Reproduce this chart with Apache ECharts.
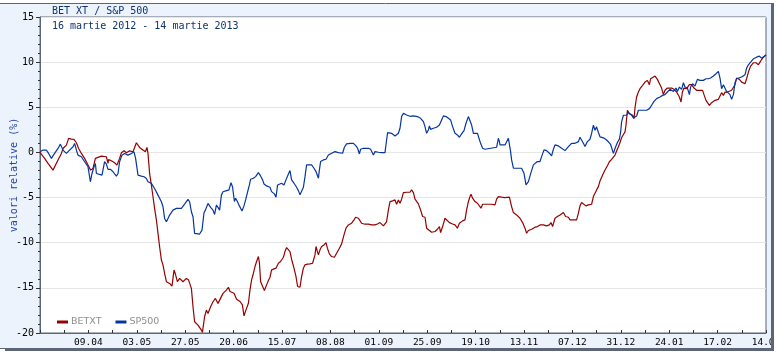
<!DOCTYPE html>
<html>
<head>
<meta charset="utf-8">
<script src="https://cdn.jsdelivr.net/npm/echarts/dist/echarts.min.js"></script>
<style>
html,body{margin:0;padding:0;background:#fff;}
#chart{width:778px;height:355px;}
</style>
</head>
<body>
<div id="chart"></div>
<script>
// x = days since 16.03.2012, y = relative change (%)
const startDate = [2012, 2, 16];
const axisMaxDay = 363;
const labelStepDays = 24.2;

const betDays = [0,2.3,4.0,4.8,6.5,7.3,9.0,10.7,11.5,13.2,14.3,15.7,17.0,18.2,19.3,20.7,22.3,24.0,25.3,26.5,27.7,28.7,30.7,33.2,34.0,34.3,35.7,37.3,38.5,39.8,40.7,42.0,43.2,44.8,46.5,48.2,49.8,51.5,52.7,53.5,54.0,54.8,55.7,56.5,57.3,58.2,59.0,59.8,60.7,61.5,62.3,63.2,64.8,66.0,67.0,67.7,68.7,69.8,70.7,71.5,73.2,74.3,75.7,76.5,77.3,79.0,80.7,81.2,82.3,83.2,84.0,85.3,86.5,87.7,89.0,89.8,91.5,93.2,94.2,95.0,95.8,97.0,98.3,100.0,101.2,102.0,103.0,104.2,105.0,105.8,106.7,107.5,108.3,109.2,109.7,110.3,111.3,112.2,113.3,114.2,115.0,115.8,116.7,118.0,119.2,120.3,121.7,122.5,123.3,124.2,125.0,125.8,127.0,128.0,128.8,130.0,130.8,131.7,132.5,133.7,135.0,136.3,137.5,138.0,138.7,139.2,140.0,140.8,142.0,143.0,143.7,144.7,145.8,147.2,148.3,149.7,150.8,152.0,153.0,154.2,155.8,157.0,157.8,159.2,160.0,160.8,162.5,164.2,165.8,166.7,167.5,168.7,170.0,170.8,171.7,172.5,173.3,174.2,175.0,176.3,177.5,178.3,179.2,180.0,180.8,181.7,183.3,185.0,185.8,186.7,187.5,188.3,189.2,190.3,191.3,192.5,193.3,194.2,195.8,197.5,198.7,199.7,200.3,201.3,202.5,203.3,204.7,206.3,207.5,208.7,209.7,211.3,212.5,213.3,214.2,215.0,215.5,216.3,217.5,218.7,219.7,220.5,221.3,222.5,224.2,225.8,227.5,228.3,229.2,230.8,232.5,234.7,235.8,236.7,238.3,240.0,241.3,242.5,243.3,244.2,245.8,247.5,248.7,250.0,251.7,253.3,254.7,255.5,256.3,257.5,258.7,260.0,261.7,262.8,264.2,265.0,266.7,268.3,269.2,270.0,270.8,271.7,273.0,274.2,275.0,275.8,276.7,277.5,278.3,279.2,280.0,281.3,282.5,283.7,284.7,285.8,286.7,287.5,288.3,289.2,290.0,290.8,291.7,292.5,293.0,293.7,294.7,295.3,296.3,297.0,297.5,298.3,299.2,300.0,301.3,302.5,303.7,304.7,305.3,306.3,307.5,308.7,310.0,310.8,311.7,312.5,313.7,314.7,315.8,317.0,318.3,319.7,320.5,321.2,322.0,323.3,324.7,325.8,327.0,328.3,330.0,331.3,332.0,333.0,334.7,335.8,337.5,339.2,340.0,340.8,341.7,342.5,343.7,344.7,345.8,346.7,347.5,348.3,349.7,350.8,352.5,353.3,354.2,355.3,356.7,358.0,359.2,360.0,360.8,361.7,363.0];
const betValues = [0.00,-0.66,-1.22,-1.03,-1.96,-1.77,-0.85,-0.11,0.44,0.81,1.55,1.48,1.44,1.07,0.44,-0.11,-0.66,-1.40,-1.96,-1.77,-0.66,-0.48,-0.41,-0.48,-1.22,-0.78,-0.92,-1.14,-1.40,-0.66,-0.04,0.18,-0.04,0.18,0.07,1.07,0.55,0.26,0.07,0.55,-0.11,-2.33,-3.62,-4.91,-6.20,-7.49,-8.97,-10.45,-11.92,-12.48,-13.40,-14.32,-14.51,-14.80,-13.03,-13.47,-14.32,-13.95,-14.14,-14.32,-13.95,-14.14,-15.06,-17.09,-18.75,-19.12,-19.68,-19.93,-18.20,-17.46,-17.83,-17.09,-16.54,-16.17,-16.72,-16.54,-15.61,-15.25,-14.93,-15.41,-15.22,-15.59,-16.25,-16.51,-16.88,-18.10,-17.44,-16.70,-15.22,-14.11,-13.38,-12.64,-12.08,-11.53,-12.20,-14.30,-14.85,-15.30,-14.67,-14.19,-13.82,-13.01,-13.19,-12.82,-12.27,-12.08,-11.61,-10.98,-10.54,-10.42,-10.98,-11.83,-12.82,-13.75,-14.85,-14.93,-13.75,-12.82,-12.45,-12.38,-12.34,-12.27,-11.35,-10.42,-10.98,-11.35,-10.79,-10.42,-10.24,-9.98,-10.61,-11.24,-11.53,-11.61,-11.16,-10.61,-10.13,-9.13,-8.39,-8.03,-7.84,-7.47,-7.18,-7.29,-7.55,-7.84,-7.95,-7.95,-8.03,-8.21,-8.03,-7.92,-7.77,-7.77,-8.14,-8.14,-7.66,-6.37,-5.44,-5.37,-5.26,-5.74,-5.26,-5.63,-5.18,-4.45,-4.41,-4.41,-4.15,-4.45,-5.18,-5.18,-5.70,-6.37,-7.10,-7.18,-8.39,-8.58,-8.84,-8.76,-8.51,-8.21,-8.87,-8.21,-7.29,-7.47,-7.77,-7.92,-8.03,-8.39,-7.84,-7.58,-7.47,-6.37,-5.44,-4.89,-4.63,-5.07,-5.44,-5.63,-5.81,-6.18,-5.74,-5.74,-5.74,-5.74,-5.81,-5.18,-4.89,-4.96,-5.00,-4.96,-6.00,-6.66,-6.92,-7.29,-7.77,-8.39,-8.95,-8.65,-8.51,-8.28,-8.21,-8.03,-8.03,-8.14,-8.03,-7.77,-8.21,-7.29,-7.10,-6.92,-6.66,-7.10,-7.18,-7.47,-7.47,-7.47,-6.73,-5.92,-5.55,-5.70,-5.92,-5.81,-5.81,-5.74,-4.89,-4.52,-4.15,-3.79,-3.16,-2.50,-1.95,-1.47,-1.03,-0.77,-0.66,-0.29,0.15,0.63,1.10,1.62,1.99,2.28,3.01,4.67,4.30,4.12,4.12,3.75,4.93,6.14,6.69,7.06,7.43,7.79,7.98,7.50,8.16,8.24,8.46,8.09,7.50,7.13,6.40,6.88,7.13,7.35,7.13,6.99,6.69,6.14,5.59,6.69,7.13,7.06,7.50,7.50,7.13,6.88,6.88,6.88,6.40,5.77,5.22,5.51,5.77,5.88,6.03,6.62,6.32,6.69,6.69,6.88,6.88,6.76,7.50,8.24,8.09,7.79,7.61,8.16,8.90,9.56,9.93,9.93,9.71,10.00,10.29,10.55,10.80];

const spDays = [0,1.5,3.2,4.3,5.7,7.3,9.0,10.2,11.5,12.3,13.2,14.8,16.5,17.3,18.2,19.0,20.7,22.3,24.0,25.2,26.0,27.0,27.7,28.2,29.0,31.0,32.3,33.2,34.0,35.3,36.5,38.2,39.0,39.8,41.0,42.3,44.0,45.7,47.0,47.8,49.0,50.7,52.0,53.2,54.0,55.7,57.3,59.0,60.7,61.5,62.3,63.2,64.0,64.8,66.5,68.2,69.0,70.7,72.3,74.0,74.8,75.7,76.5,77.3,78.2,79.8,81.0,82.0,82.7,84.0,85.3,86.5,87.3,88.2,89.0,89.8,90.7,91.5,93.3,94.5,95.5,96.3,97.2,97.8,98.7,99.7,101.0,102.0,102.8,103.7,104.7,105.3,106.7,107.8,109.2,110.3,111.3,112.0,113.3,115.0,115.8,117.2,118.0,118.8,119.7,120.8,122.0,123.0,124.2,125.0,125.8,127.0,128.3,129.2,130.0,130.8,131.7,132.5,133.3,134.2,135.8,137.0,138.0,139.2,139.7,140.3,141.7,143.0,144.2,145.8,147.5,149.2,151.3,152.2,153.3,155.0,156.7,158.0,158.8,159.7,160.3,161.7,164.2,165.3,166.0,166.7,167.5,169.2,170.8,172.5,173.3,173.8,174.7,175.8,177.5,179.2,180.0,180.8,181.7,183.3,185.0,186.7,188.7,190.3,191.7,192.5,193.3,194.2,194.7,195.3,196.7,198.3,199.7,200.8,201.7,203.0,204.2,205.3,206.3,207.5,208.7,209.7,210.8,212.0,213.0,214.2,215.0,215.8,216.7,218.7,219.7,220.3,221.3,222.5,223.3,228.3,229.2,229.7,230.0,230.8,232.5,233.3,234.2,234.7,235.3,235.8,236.7,237.5,240.8,242.0,243.0,244.2,245.3,246.7,247.5,248.7,250.0,250.8,252.0,253.3,254.7,255.8,256.7,257.5,259.2,260.8,262.5,264.2,265.8,267.5,269.2,270.0,270.8,271.7,272.5,273.7,275.0,275.8,276.7,277.5,278.3,279.2,280.0,281.7,283.0,284.2,285.3,286.7,287.5,288.7,289.7,290.3,290.8,291.7,292.5,293.3,294.2,295.0,295.8,296.7,297.5,298.3,299.2,300.0,301.7,303.3,304.7,305.8,307.0,308.3,310.0,311.3,312.5,313.7,315.0,316.7,318.0,318.7,319.7,320.8,321.7,322.5,323.7,324.7,325.3,326.3,327.5,328.7,330.0,331.7,333.0,334.2,335.3,336.7,338.0,339.2,340.0,340.8,341.7,342.5,343.3,344.2,345.0,345.8,346.7,347.5,348.3,349.2,350.8,352.5,353.3,354.2,355.3,356.7,358.3,359.7,360.8,361.7,363.0];
const spValues = [0.07,0.26,0.26,-0.11,-0.66,-0.11,0.44,0.92,0.26,0.07,-0.11,0.26,0.63,1.00,0.26,-0.30,-0.48,-1.03,-1.59,-3.25,-2.33,-1.59,-1.22,-2.33,-2.51,-2.51,-1.03,-1.29,-1.88,-1.88,-2.14,-2.62,-2.33,-1.03,-0.30,-0.11,-0.30,-0.11,0.07,-0.66,-2.51,-2.62,-2.69,-2.88,-3.25,-3.43,-3.99,-4.73,-5.46,-6.02,-7.31,-7.68,-7.31,-6.94,-6.39,-6.20,-6.09,-6.20,-5.72,-5.20,-5.46,-6.57,-7.12,-8.97,-9.08,-9.04,-8.60,-6.68,-6.39,-5.65,-6.09,-6.39,-6.87,-5.83,-6.09,-6.39,-4.73,-4.36,-4.23,-4.15,-3.34,-3.86,-5.44,-5.07,-5.44,-5.92,-6.48,-5.92,-5.26,-5.33,-3.60,-2.97,-2.86,-2.68,-2.23,-2.60,-3.04,-3.49,-3.71,-3.86,-4.34,-4.59,-4.96,-3.60,-3.49,-3.41,-3.60,-3.04,-2.38,-2.01,-3.04,-3.41,-3.86,-4.23,-4.70,-4.70,-3.86,-2.68,-1.38,-1.27,-1.38,-1.75,-2.12,-2.86,-1.94,-1.01,-0.83,-0.76,-0.28,-0.09,0.09,-0.02,-0.09,0.57,0.94,1.01,1.01,0.72,0.46,-0.17,0.35,0.46,0.46,0.35,0.28,-0.28,0.09,0.02,-0.02,-0.02,1.38,2.20,2.31,2.12,1.83,2.12,2.68,3.97,4.34,4.15,4.00,4.04,3.97,3.78,3.41,2.86,2.12,2.49,2.93,2.56,2.68,2.79,3.04,3.60,4.04,3.97,3.78,3.60,2.86,2.12,1.94,1.68,2.05,2.42,3.23,3.97,3.78,3.04,2.12,2.12,2.12,1.01,0.46,0.35,0.57,0.57,1.57,1.20,0.83,0.94,0.83,1.01,1.57,1.75,0.09,-0.83,-1.75,-1.75,-1.75,-2.31,-3.60,-3.23,-2.38,-1.38,-1.20,-1.01,-1.01,-0.46,0.28,0.20,-0.09,-0.39,0.35,0.83,0.72,0.46,0.20,0.65,1.01,1.01,1.20,1.68,1.57,1.01,0.65,1.20,1.46,2.10,3.01,2.46,2.83,2.21,1.73,1.62,1.43,1.18,0.88,-0.11,0.44,1.10,1.47,2.21,3.38,4.12,3.93,4.12,4.41,4.30,4.12,3.82,3.75,4.04,4.67,4.78,4.67,4.67,4.85,5.22,5.66,5.96,6.14,6.32,6.40,6.69,6.99,6.76,7.13,6.76,7.24,6.99,7.72,7.24,7.13,6.40,7.24,7.61,7.35,8.09,7.98,7.98,8.16,8.16,8.24,8.46,8.71,8.97,8.24,7.06,7.50,7.72,6.76,6.76,6.40,5.88,6.40,7.72,8.16,8.16,8.35,8.60,9.34,9.71,10.00,10.37,10.55,10.66,10.44,10.55,10.80];

const seriesNames = ['BETXT', 'SP500'];
const titleText = 'BET XT / S&P 500';
const subtitleText = '16 martie 2012 - 14 martie 2013';
const yAxisName = 'valori relative (%)';

function pad(n){ return (n < 10 ? '0' : '') + n; }
function dayLabel(v){
  const d = new Date(startDate[0], startDate[1], startDate[2] + Math.floor(v + 1e-6));
  return pad(d.getDate()) + '.' + pad(d.getMonth() + 1);
}

const axisColor = '#5c6676';
const mono = 'DejaVu Sans Mono';

const chart = echarts.init(document.getElementById('chart'), null, {renderer: 'canvas'});
chart.setOption({
  animation: false,
  backgroundColor: '#ffffff',
  title: [
    {text: titleText, left: 52, top: 6, padding: 0,
     textStyle: {fontFamily: mono, fontSize: 10, fontWeight: 'normal', color: '#0d3470'}},
    {text: subtitleText, left: 52, top: 21, padding: 0,
     textStyle: {fontFamily: mono, fontSize: 10, fontWeight: 'normal', color: '#0d3470'}}
  ],
  legend: {
    data: seriesNames,
    left: 57, top: 317, padding: 0,
    icon: 'rect', itemWidth: 11, itemHeight: 3, itemGap: 14,
    textStyle: {color: '#8e8e8e', fontFamily: 'DejaVu Sans', fontSize: 9.5, padding: [0,0,0,-2]}
  },
  grid: {
    left: 40, top: 17, right: 12, bottom: 22,
    show: true, backgroundColor: '#ffffff', borderColor: axisColor, borderWidth: 1,
    containLabel: false, outerBoundsMode: 'none'
  },
  xAxis: {
    type: 'value', min: 0, max: axisMaxDay, interval: labelStepDays,
    axisLine: {show: true, onZero: false, lineStyle: {color: axisColor, width: 1}},
    axisTick: {show: true, inside: true, length: 3, lineStyle: {color: '#333'}},
    minorTick: {show: true, splitNumber: 2, length: 3, lineStyle: {color: '#333'}},
    splitLine: {show: false},
    axisLabel: {show: true, showMinLabel: false, showMaxLabel: true, margin: 5,
      fontFamily: mono, fontSize: 9.5, color: '#000', formatter: dayLabel}
  },
  yAxis: {
    type: 'value', min: -20, max: 15, interval: 5,
    name: yAxisName, nameLocation: 'middle', nameGap: 21, nameRotate: 90,
    nameMoveOverlap: false,
    nameTextStyle: {fontFamily: mono, fontSize: 10, color: '#2443a6'},
    axisLine: {show: true, onZero: false, lineStyle: {color: axisColor, width: 1}},
    axisTick: {show: true, inside: false, length: 4, lineStyle: {color: '#333'}},
    minorTick: {show: true, splitNumber: 5, length: 2, lineStyle: {color: '#333'}},
    splitLine: {show: true, lineStyle: {color: '#e6e6e6', width: 1}},
    axisLabel: {margin: 6, fontFamily: mono, fontSize: 10, color: '#000'}
  },
  graphic: [
    {type: 'rect', z: -100, silent: true, shape: {x: -2, y: 3.5, width: 774, height: 345},
     style: {fill: '#edf3fc', stroke: axisColor, lineWidth: 1}},
    {type: 'rect', z: 100, silent: true, shape: {x: 771, y: 3, width: 3, height: 348},
     style: {fill: axisColor}},
    {type: 'rect', z: 100, silent: true, shape: {x: 5, y: 348.5, width: 769, height: 2.5},
     style: {fill: axisColor}},
    {type: 'rect', z: 100, silent: true, shape: {x: 774, y: 0, width: 10, height: 355},
     style: {fill: '#ffffff'}}
  ],
  series: [
    {name: seriesNames[0], type: 'line', showSymbol: false, symbol: 'none',
     color: '#960000', lineStyle: {width: 1.2, color: '#960000'},
     data: betDays.map((d, i) => [d, betValues[i]])},
    {name: seriesNames[1], type: 'line', showSymbol: false, symbol: 'none',
     color: '#0536a0', lineStyle: {width: 1.2, color: '#0536a0'},
     data: spDays.map((d, i) => [d, spValues[i]])}
  ]
});
</script>
</body>
</html>
